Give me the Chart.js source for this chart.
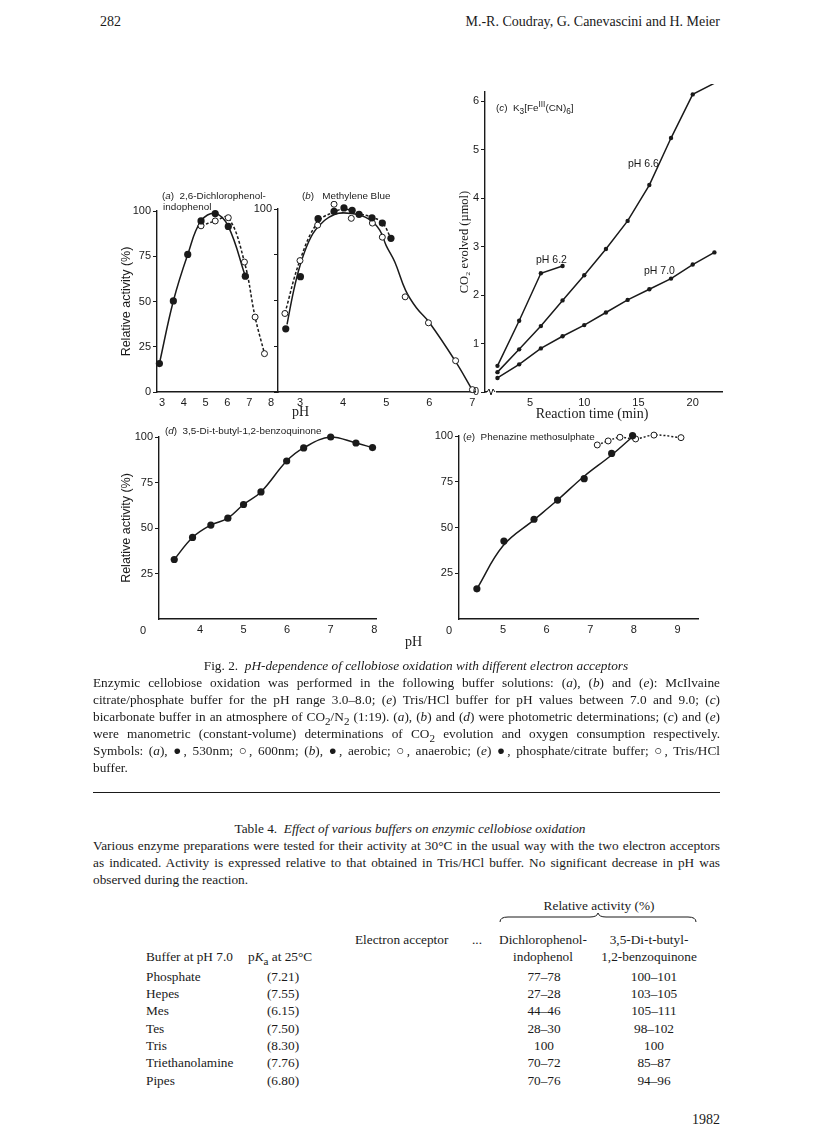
<!DOCTYPE html>
<html>
<head>
<meta charset="utf-8">
<script src="https://cdn.jsdelivr.net/npm/chart.js@4.4.1/dist/chart.umd.min.js"></script>
<style>
body { margin: 0; background: #fff; }
#page { position: relative; width: 816px; height: 1136px; overflow: hidden; font-family: "Liberation Serif", "Times New Roman", serif; color: #1a1a1a; }
.t { position: absolute; white-space: nowrap; line-height: 17px; font-size: 13.3px; }
.c { transform: translateX(-50%); }
.s { font-family: "Liberation Sans", Arial, sans-serif; font-size: 9.9px; line-height: 12px; }
.j { position: absolute; left: 93px; width: 627px; white-space: nowrap; text-align: justify; text-align-last: justify; font-size: 13.3px; line-height: 17px; }
.j.last { text-align-last: left; }
canvas { position: absolute; }
</style>
</head>
<body>
<div id="page">
  <canvas id="chartA"></canvas>
  <canvas id="chartB"></canvas>
  <canvas id="chartC"></canvas>
  <canvas id="chartD"></canvas>
  <canvas id="chartE"></canvas>

  <!-- page header -->
  <div class="t" style="left:100px;top:13px;font-size:14px;">282</div>
  <div class="t" style="right:96px;top:13px;font-size:14px;">M.-R. Coudray, G. Canevascini and H. Meier</div>

  <!-- panel titles and notes -->
  <div class="t s" style="left:162px;top:190px;">(<i>a</i>)&nbsp; 2,6-Dichlorophenol-</div>
  <div class="t s" style="left:163px;top:201px;">indophenol</div>
  <div class="t s" style="left:302px;top:190px;">(<i>b</i>)&nbsp;&nbsp; Methylene Blue</div>
  <div class="t s" style="left:496px;top:99px;">(<i>c</i>)&nbsp; K<sub>3</sub>[Fe<sup>III</sup>(CN)<sub>6</sub>]</div>
  <div class="t s" style="left:628px;top:157px;font-size:10.5px;">pH 6.6</div>
  <div class="t s" style="left:536px;top:253px;font-size:10.5px;">pH 6.2</div>
  <div class="t s" style="left:644px;top:264px;font-size:10.5px;">pH 7.0</div>
  <div class="t s" style="left:165px;top:425px;">(<i>d</i>)&nbsp; 3,5-Di-t-butyl-1,2-benzoquinone</div>
  <div class="t s" style="left:463px;top:431px;">(<i>e</i>)&nbsp; Phenazine methosulphate</div>
  <div class="t s" style="left:140px;top:624px;font-size:11px;">0</div>
  <div class="t s" style="left:446px;top:624px;font-size:11px;">0</div>
  <div class="t" style="left:292px;top:403px;font-size:14px;">pH</div>
  <div class="t c" style="left:592px;top:405px;font-size:14px;">Reaction time (min)</div>
  <div class="t" style="left:405px;top:633px;font-size:14px;">pH</div>

  <!-- figure legend -->
  <div class="t c" style="left:416px;top:657px;">Fig. 2. &nbsp;<i>pH-dependence of cellobiose oxidation with different electron acceptors</i></div>
  <div class="j" style="top:674px;">Enzymic cellobiose oxidation was performed in the following buffer solutions: (<i>a</i>), (<i>b</i>) and (<i>e</i>): McIlvaine</div>
  <div class="j" style="top:691px;">citrate/phosphate buffer for the pH range 3.0–8.0; (<i>e</i>) Tris/HCl buffer for pH values between 7.0 and 9.0; (<i>c</i>)</div>
  <div class="j" style="top:708px;">bicarbonate buffer in an atmosphere of CO<sub>2</sub>/N<sub>2</sub> (1:19). (<i>a</i>), (<i>b</i>) and (<i>d</i>) were photometric determinations; (<i>c</i>) and (<i>e</i>)</div>
  <div class="j" style="top:725px;">were manometric (constant-volume) determinations of CO<sub>2</sub> evolution and oxygen consumption respectively.</div>
  <div class="j" style="top:742px;">Symbols: (<i>a</i>), ●, 530nm; ○, 600nm; (<i>b</i>), ●, aerobic; ○, anaerobic; (<i>e</i>) ●, phosphate/citrate buffer; ○, Tris/HCl</div>
  <div class="j last" style="top:759px;">buffer.</div>

  <div style="position:absolute;left:93px;top:792px;width:627px;height:0;border-top:1.5px solid #1a1a1a;"></div>

  <!-- table 4 -->
  <div class="t c" style="left:410px;top:820px;">Table 4. &nbsp;<i>Effect of various buffers on enzymic cellobiose oxidation</i></div>
  <div class="j" style="top:837px;">Various enzyme preparations were tested for their activity at 30°C in the usual way with the two electron acceptors</div>
  <div class="j" style="top:854px;">as indicated. Activity is expressed relative to that obtained in Tris/HCl buffer. No significant decrease in pH was</div>
  <div class="j last" style="top:871px;">observed during the reaction.</div>

  <div class="t c" style="left:599px;top:897px;">Relative activity (%)</div>
  <svg style="position:absolute;left:498px;top:912px;" width="200" height="12">
    <path d="M2 10 Q2 5 10 5 L92 5 Q99 5 100 1 Q101 5 108 5 L190 5 Q198 5 198 10" fill="none" stroke="#1a1a1a" stroke-width="1"/>
  </svg>
  <div class="t" style="left:355px;top:931px;">Electron acceptor</div>
  <div class="t" style="left:472px;top:931px;">...</div>
  <div class="t c" style="left:543px;top:931px;">Dichlorophenol-</div>
  <div class="t c" style="left:543px;top:948px;">indophenol</div>
  <div class="t c" style="left:649px;top:931px;">3,5-Di-t-butyl-</div>
  <div class="t c" style="left:649px;top:948px;">1,2-benzoquinone</div>
  <div class="t" style="left:146px;top:948px;">Buffer at pH 7.0</div>
  <div class="t" style="left:248px;top:948px;">p<i>K</i><sub>a</sub> at 25°C</div>
  <div id="rows"></div>

  <div class="t" style="right:96px;top:1111px;font-size:14px;">1982</div>
</div>

<script>
// (a) 2,6-dichlorophenol-indophenol: filled = 530 nm, open = 600 nm
const phA530 = [2.88, 3.52, 4.18, 4.79, 5.44, 6.04, 6.82];
const actA530 = [15.7, 50.3, 76, 94.5, 98.6, 91.5, 64];
const phA600 = [4.79, 5.44, 6.04, 6.78, 7.27, 7.7];
const actA600 = [91.8, 94.5, 96.3, 71.8, 41.4, 21.2];

// (b) methylene blue: filled = aerobic, open = anaerobic
const phBaer = [2.67, 3.01, 3.42, 3.79, 4.02, 4.21, 4.37, 4.67, 4.91, 5.11];
const actBaer = [34.5, 63, 94.7, 98.7, 100.6, 99.3, 97.1, 95.2, 92.3, 84];
const phBana = [2.65, 3.0, 3.41, 3.79, 4.19, 4.68, 4.91, 5.44, 5.98, 6.61, 7.0];
const actBana = [42.9, 71.8, 91.2, 102.6, 94.9, 92.3, 84.6, 52, 37.8, 17.1, 1.3];
// drawn curves of (b)
const phBfit = [2.7, 2.85, 3.0, 3.2, 3.41, 3.8, 4.2, 4.6, 4.85, 5.0, 5.2, 5.45, 5.7, 6.0, 6.6, 7.0];
const actBfit = [37, 55, 69, 82, 90, 97, 97.5, 94.5, 88.5, 80, 71, 55.5, 46, 38, 17, 1];
const phBdash = [2.65, 3.0, 3.42, 3.8, 4.02, 4.21, 4.37, 4.67, 4.91, 5.11];
const actBdash = [43, 72, 93, 98.5, 100, 99, 97.5, 95.5, 92.5, 84];

// (c) K3[Fe(CN)6]: CO2 evolved (umol) vs reaction time (min)
const tC62 = [2, 4, 6, 8];
const co2C62 = [0.54, 1.47, 2.45, 2.6];
const tC66 = [2, 4, 6, 8, 10, 12, 14, 16, 18, 20, 22.5];
const co2C66 = [0.41, 0.88, 1.36, 1.89, 2.41, 2.95, 3.53, 4.27, 5.24, 6.14, 6.43];
const tC70 = [2, 4, 6, 8, 10, 12, 14, 16, 18, 20, 22];
const co2C70 = [0.29, 0.57, 0.9, 1.15, 1.38, 1.64, 1.9, 2.12, 2.34, 2.63, 2.88];

// (d) 3,5-di-t-butyl-1,2-benzoquinone
const phD = [3.41, 3.83, 4.25, 4.64, 5.0, 5.4, 5.99, 6.38, 7.0, 7.58, 7.96];
const actD = [32.7, 44.8, 51.6, 55.4, 62.9, 69.8, 86.8, 94, 100, 96.7, 94.2];

// (e) phenazine methosulphate: filled = phosphate/citrate, open = Tris/HCl
const phEpc = [4.4, 5.02, 5.71, 6.25, 6.86, 7.49, 7.97];
const actEpc = [16.5, 42.6, 54.5, 65, 76.7, 90.5, 100.2];
const phEtris = [7.16, 7.41, 7.68, 8.04, 8.46, 9.08];
const actEtris = [95.1, 97.3, 99.3, 98.4, 100.5, 99.1];
const phEfit = [4.4, 5.0, 5.7, 6.25, 6.86, 7.49, 7.97];
const actEfit = [16.5, 40, 54, 65, 78, 89.6, 99.6];

// tick labels
const pctTicks = [0, 25, 50, 75, 100];
const phTicksA = [3, 4, 5, 6, 7, 8];
const phTicksB = [3, 4, 5, 6, 7];
const timeTicks = [5, 10, 15, 20];
const co2Ticks = [0, 1, 2, 3, 4, 5, 6];
const phTicksD = [4, 5, 6, 7, 8];
const phTicksE = [5, 6, 7, 8, 9];

// Table 4
const buffers = ["Phosphate", "Hepes", "Mes", "Tes", "Tris", "Triethanolamine", "Pipes"];
const pKa = ["(7.21)", "(7.55)", "(6.15)", "(7.50)", "(8.30)", "(7.76)", "(6.80)"];
const relDCPIP = ["77–78", "27–28", "44–46", "28–30", "100", "70–72", "70–76"];
const relDTBQ = ["100–101", "103–105", "105–111", "98–102", "100", "85–87", "94–96"];

const ink = "#1a1a1a";
Chart.defaults.font.family = '"Liberation Sans", Arial, sans-serif';
Chart.defaults.font.size = 11;
Chart.defaults.color = ink;

function pts(xs, ys) {
    return xs.map((x, i) => ({ x: x, y: ys[i] }));
}
function filled(xs, ys, r) {
    return { data: pts(xs, ys), showLine: false, pointRadius: r || 3.6,
             pointBackgroundColor: ink, pointBorderColor: ink, pointBorderWidth: 0 };
}
function open(xs, ys) {
    return { data: pts(xs, ys), showLine: false, pointRadius: 3,
             pointBackgroundColor: "#fff", pointBorderColor: ink, pointBorderWidth: 1 };
}
function curve(xs, ys, dash, tension) {
    return { data: pts(xs, ys), showLine: true, borderColor: ink, borderWidth: 1.5,
             borderDash: dash || [], tension: tension === undefined ? 0.4 : tension,
             pointRadius: 0 };
}

// small break mark at the left end of the time axis in (c)
const axisBreak = {
    id: "axisBreak",
    afterDraw(chart) {
        const { ctx, chartArea: a } = chart;
        ctx.save();
        ctx.fillStyle = "#fff";
        ctx.fillRect(a.left + 2, a.bottom - 2, 9, 4);
        ctx.strokeStyle = ink;
        ctx.lineWidth = 1;
        ctx.beginPath();
        ctx.moveTo(a.left + 2, a.bottom);
        ctx.lineTo(a.left + 4, a.bottom - 3);
        ctx.lineTo(a.left + 6, a.bottom + 3);
        ctx.lineTo(a.left + 8, a.bottom - 3);
        ctx.lineTo(a.left + 10, a.bottom);
        ctx.stroke();
        ctx.restore();
    }
};

function panel(id, box, cfg) {
    const padT = 8, padR = 10, xH = 22;
    const w = box.R - box.L + box.yW + padR;
    const h = box.B - box.T + padT + xH;
    const cv = document.getElementById(id);
    cv.width = w; cv.height = h;
    cv.style.left = (box.L - box.yW) + "px";
    cv.style.top = (box.T - padT) + "px";
    cv.style.width = w + "px";
    cv.style.height = h + "px";
    new Chart(cv, {
        type: "scatter",
        data: { datasets: cfg.datasets },
        plugins: cfg.plugins || [],
        options: {
            responsive: false,
            animation: false,
            events: [],
            clip: false,
            layout: { padding: { top: padT, right: padR, left: 0, bottom: 0 } },
            plugins: { legend: { display: false }, tooltip: { enabled: false } },
            scales: {
                x: {
                    type: "linear", min: cfg.x[0], max: cfg.x[1],
                    grid: { drawOnChartArea: false, drawTicks: false },
                    border: { color: ink, width: 1.4 },
                    ticks: { padding: 4, maxRotation: 0 },
                    afterBuildTicks: s => { s.ticks = cfg.xTicks.map(v => ({ value: v })); },
                    afterFit: s => { s.height = xH; s.paddingLeft = 0; s.paddingRight = 0; }
                },
                y: {
                    type: "linear", min: cfg.y[0], max: cfg.y[1],
                    grid: { drawOnChartArea: false, drawTicks: true, tickLength: 4, color: ink, tickWidth: 1 },
                    border: { color: ink, width: 1.4 },
                    ticks: { padding: 2, callback: cfg.yLabel || (v => v) },
                    afterBuildTicks: s => { s.ticks = cfg.yTicks.map(v => ({ value: v })); },
                    afterFit: s => { s.width = box.yW; s.paddingTop = 0; s.paddingBottom = 0; },
                    title: cfg.yTitle ? {
                        display: true, text: cfg.yTitle, padding: { top: 0, bottom: 0 },
                        font: cfg.yTitleFont || { family: '"Liberation Sans", Arial, sans-serif', size: 12.5 }
                    } : { display: false }
                }
            }
        }
    });
}

document.addEventListener("DOMContentLoaded", () => {
    panel("chartA", { L: 157, T: 211, R: 278, B: 392, yW: 38 }, {
        x: [2.77, 8.32], y: [0, 100], xTicks: phTicksA, yTicks: pctTicks,
        yTitle: "Relative activity (%)",
        datasets: [
            filled(phA530, actA530),
            open(phA600, actA600),
            curve(phA530, actA530),
            curve(phA600, actA600, [3, 2])
        ]
    });

    panel("chartB", { L: 278, T: 209, R: 475, B: 392, yW: 24 }, {
        x: [2.49, 7.06], y: [0, 100], xTicks: phTicksB, yTicks: pctTicks,
        yLabel: v => (v === 100 ? "100" : ""),
        datasets: [
            filled(phBaer, actBaer),
            open(phBana, actBana),
            curve(phBfit, actBfit),
            curve(phBdash, actBdash, [3, 2])
        ]
    });

    panel("chartC", { L: 485, T: 92, R: 722, B: 392, yW: 28 }, {
        x: [0.85, 22.7], y: [0, 6.19], xTicks: timeTicks, yTicks: co2Ticks,
        yTitle: "CO\u2082 evolved (\u00b5mol)",
        yTitleFont: { family: '"Liberation Serif", "Times New Roman", serif', size: 12.5 },
        plugins: [axisBreak],
        datasets: [
            filled(tC62, co2C62, 2.2),
            filled(tC66, co2C66, 2.2),
            filled(tC70, co2C70, 2.2),
            curve(tC62, co2C62, [], 0),
            curve(tC66, co2C66, [], 0),
            curve(tC70, co2C70, [], 0)
        ]
    });

    panel("chartD", { L: 159, T: 437, R: 376, B: 619, yW: 40 }, {
        x: [3.06, 8.04], y: [0, 100], xTicks: phTicksD, yTicks: [25, 50, 75, 100],
        yTitle: "Relative activity (%)",
        datasets: [
            filled(phD, actD),
            curve(phD, actD)
        ]
    });

    panel("chartE", { L: 459, T: 436, R: 698, B: 619, yW: 30 }, {
        x: [3.99, 9.47], y: [0, 100], xTicks: phTicksE, yTicks: [25, 50, 75, 100],
        datasets: [
            filled(phEpc, actEpc),
            open(phEtris, actEtris),
            curve(phEfit, actEfit),
            curve(phEtris, actEtris, [2, 2])
        ]
    });

    // table body
    const rows = document.getElementById("rows");
    const rowY = [976, 993, 1010, 1028, 1045, 1062, 1080];
    buffers.forEach((name, i) => {
        const top = rowY[i] - 8.5;
        rows.insertAdjacentHTML("beforeend",
            `<div class="t" style="left:146px;top:${top}px;">${name}</div>` +
            `<div class="t c" style="left:283px;top:${top}px;">${pKa[i]}</div>` +
            `<div class="t c" style="left:544px;top:${top}px;">${relDCPIP[i]}</div>` +
            `<div class="t c" style="left:654px;top:${top}px;">${relDTBQ[i]}</div>`);
    });
});
</script>
</body>
</html>
